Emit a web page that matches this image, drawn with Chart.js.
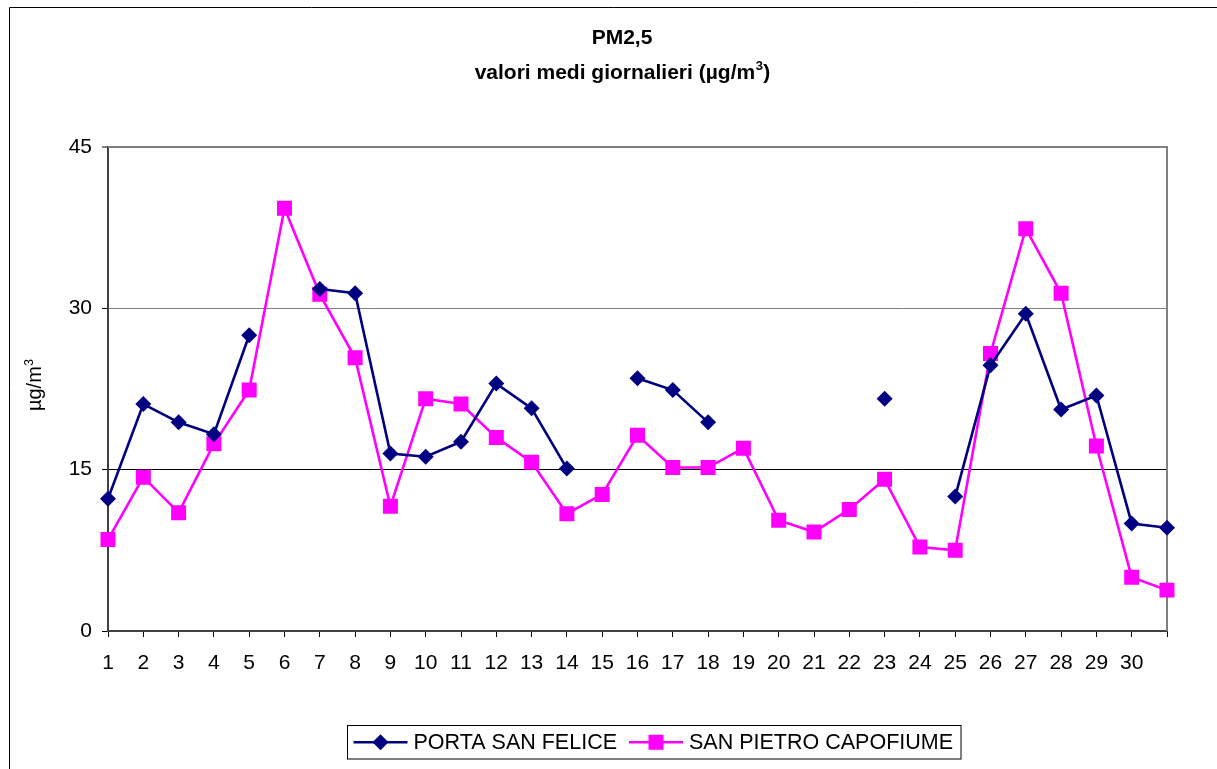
<!DOCTYPE html>
<html><head><meta charset="utf-8">
<script src="https://cdn.jsdelivr.net/npm/chart.js@4/dist/chart.umd.min.js"></script>
<style>html,body{margin:0;padding:0;background:#fff;overflow:hidden}#wrap{position:absolute;left:0;top:0;width:1217px;height:769px}</style>
</head><body><div id="wrap"><canvas id="c" width="1217" height="769"></canvas></div>
<script>
const days = ['1','2','3','4','5','6','7','8','9','10','11','12','13','14','15','16','17','18','19','20','21','22','23','24','25','26','27','28','29','30',''];
const portaSanFelice = [12.3,21.1,19.4,18.3,27.5,null,31.8,31.4,16.5,16.2,17.6,23.0,20.7,15.1,null,23.5,22.4,19.4,null,null,null,null,21.6,null,12.5,24.7,29.5,20.6,21.9,10.0,9.6];
const sanPietroCapofiume = [8.5,14.3,11.0,17.4,22.4,39.3,31.3,25.4,11.6,21.6,21.1,18.0,15.7,10.9,12.7,18.2,15.2,15.2,17.0,10.3,9.2,11.3,14.1,7.8,7.5,25.8,37.4,31.4,17.2,5.0,3.8];
const seriesNames = ['PORTA SAN FELICE','SAN PIETRO CAPOFIUME'];
const seriesColors = ['#000080','#FF00FF'];
// title parts: [text, superscript, trailing]
const titleLine1 = 'PM2,5';
const titleLine2 = ['valori medi giornalieri (µg/m', '3', ')'];
const yTitleParts = ['µg/m', '3'];
const FONT = "'Liberation Sans', Arial, sans-serif";

function drawSupText(ctx, parts, x, y, size, bold, align) {
  const w = bold ? 'bold ' : '';
  const supSize = Math.round(size * 0.62);
  ctx.font = w + size + 'px ' + FONT;
  const w0 = ctx.measureText(parts[0]).width;
  const w2 = parts[2] ? ctx.measureText(parts[2]).width : 0;
  ctx.font = w + supSize + 'px ' + FONT;
  const w1 = ctx.measureText(parts[1]).width;
  const total = w0 + w1 + w2;
  let sx = align === 'center' ? x - total / 2 : x;
  ctx.textAlign = 'left';
  ctx.textBaseline = 'alphabetic';
  ctx.font = w + size + 'px ' + FONT;
  ctx.fillText(parts[0], sx, y);
  ctx.font = w + supSize + 'px ' + FONT;
  ctx.fillText(parts[1], sx + w0 + 0.5, y - size * 0.42);
  if (parts[2]) {
    ctx.font = w + size + 'px ' + FONT;
    ctx.fillText(parts[2], sx + w0 + w1 + 1, y);
  }
}

const extras = {
  id: 'extras',
  beforeDraw(chart) {
    const ctx = chart.ctx;
    ctx.save();
    ctx.fillStyle = '#fff';
    ctx.fillRect(0, 0, chart.width, chart.height);
    ctx.strokeStyle = '#000';
    ctx.lineWidth = 1;
    ctx.beginPath();
    ctx.moveTo(9.5, chart.height + 5);
    ctx.lineTo(9.5, 7.5);
    ctx.lineTo(chart.width + 5, 7.5);
    ctx.stroke();
    ctx.restore();
  },
  beforeDatasetsDraw(chart) {
    const a = chart.chartArea, ctx = chart.ctx;
    ctx.save();
    ctx.strokeStyle = '#808080';
    ctx.lineWidth = 2;
    ctx.beginPath();
    ctx.moveTo(a.left, a.top);
    ctx.lineTo(a.right, a.top);
    ctx.lineTo(a.right, a.bottom);
    ctx.stroke();
    ctx.restore();
  },
  afterDraw(chart) {
    const ctx = chart.ctx;
    ctx.save();
    ctx.fillStyle = '#000';
    // chart title
    ctx.font = 'bold 21px ' + FONT;
    ctx.textAlign = 'center';
    ctx.textBaseline = 'alphabetic';
    ctx.fillText(titleLine1, 622, 44);
    drawSupText(ctx, titleLine2, 622, 79, 21, true, 'center');
    // y axis title
    ctx.save();
    ctx.translate(41, 385);
    ctx.rotate(-Math.PI / 2);
    ctx.font = '20px ' + FONT;
    const yw = ctx.measureText(yTitleParts[0]).width;
    ctx.font = '13px ' + FONT;
    const ys = ctx.measureText(yTitleParts[1]).width;
    drawSupText(ctx, yTitleParts, -(yw + ys) / 2, 0, 20, false, 'left');
    ctx.restore();

    // legend
    ctx.font = '21.5px ' + FONT;
    const lineLen = 54, gapA = 6, gapB = 12, padL = 6, padR = 8;
    const widths = chart.data.datasets.map(d => ctx.measureText(d.label).width);
    let total = padL + padR;
    widths.forEach((w, i) => { total += lineLen + gapA + w + (i < widths.length - 1 ? gapB : 0); });
    const cx = 654, top = 725.5, h = 33.5;
    const left = Math.round(cx - total / 2) + 0.5;
    ctx.strokeStyle = '#000';
    ctx.lineWidth = 1;
    ctx.strokeRect(left, top, total, h);
    const cy = top + h / 2;
    let x = left + padL;
    chart.data.datasets.forEach((d, i) => {
      ctx.strokeStyle = d.borderColor;
      ctx.lineWidth = 2.5;
      ctx.beginPath();
      ctx.moveTo(x, cy); ctx.lineTo(x + lineLen, cy); ctx.stroke();
      ctx.fillStyle = d.backgroundColor;
      const mx = x + lineLen / 2;
      ctx.beginPath();
      if (d.pointStyle === 'rectRot') {
        const r = d.pointRadius;
        ctx.moveTo(mx, cy - r); ctx.lineTo(mx + r, cy); ctx.lineTo(mx, cy + r); ctx.lineTo(mx - r, cy); ctx.closePath();
      } else {
        const s = d.pointRadius * Math.SQRT1_2;
        ctx.rect(mx - s, cy - s, 2 * s, 2 * s);
      }
      ctx.fill();
      ctx.fillStyle = '#000';
      ctx.textBaseline = 'middle';
      ctx.textAlign = 'left';
      ctx.fillText(d.label, x + lineLen + gapA, cy + 1);
      x += lineLen + gapA + widths[i] + gapB;
    });
    ctx.restore();
  }
};

new Chart(document.getElementById('c'), {
  type: 'line',
  data: {
    labels: days,
    datasets: [
      { label: seriesNames[0], data: portaSanFelice, borderColor: seriesColors[0], backgroundColor: seriesColors[0],
        borderWidth: 2.6, pointStyle: 'rectRot', pointRadius: 8, pointBorderWidth: 0, spanGaps: false, tension: 0 },
      { label: seriesNames[1], data: sanPietroCapofiume, borderColor: seriesColors[1], backgroundColor: seriesColors[1],
        borderWidth: 2.6, pointStyle: 'rect', pointRadius: 10.6, pointBorderWidth: 0, spanGaps: false, tension: 0 }
    ]
  },
  options: {
    responsive: false,
    animation: false,
    devicePixelRatio: 1,
    layout: { padding: { left: 0, right: 50, top: 147, bottom: 0 } },
    plugins: {
      legend: { display: false },
      tooltip: { enabled: false },
      title: { display: false }
    },
    scales: {
      x: {
        type: 'category',
        offset: false,
        afterFit(s) { s.height = 138; },
        border: { display: true, color: '#404040', width: 2 },
        grid: { drawOnChartArea: false, drawTicks: true, tickLength: 6, tickColor: '#000', tickWidth: 1 },
        ticks: { autoSkip: false, maxRotation: 0, color: '#000', font: { family: FONT, size: 21 }, padding: 14 }
      },
      y: {
        min: 0, max: 45,
        afterFit(s) { s.width = 108; },
        border: { display: true, color: '#404040', width: 2 },
        grid: {
          color: c => (c.tick && c.tick.value === 15) ? '#000' : '#808080',
          lineWidth: c => (c.tick && c.tick.value === 45) ? 0 : 1,
          drawTicks: true, tickLength: 6, tickColor: '#000', tickWidth: 1
        },
        ticks: { stepSize: 15, color: '#000', font: { family: FONT, size: 21 }, padding: 10 },
        title: { display: false }
      }
    }
  },
  plugins: [extras]
});
</script></body></html>
